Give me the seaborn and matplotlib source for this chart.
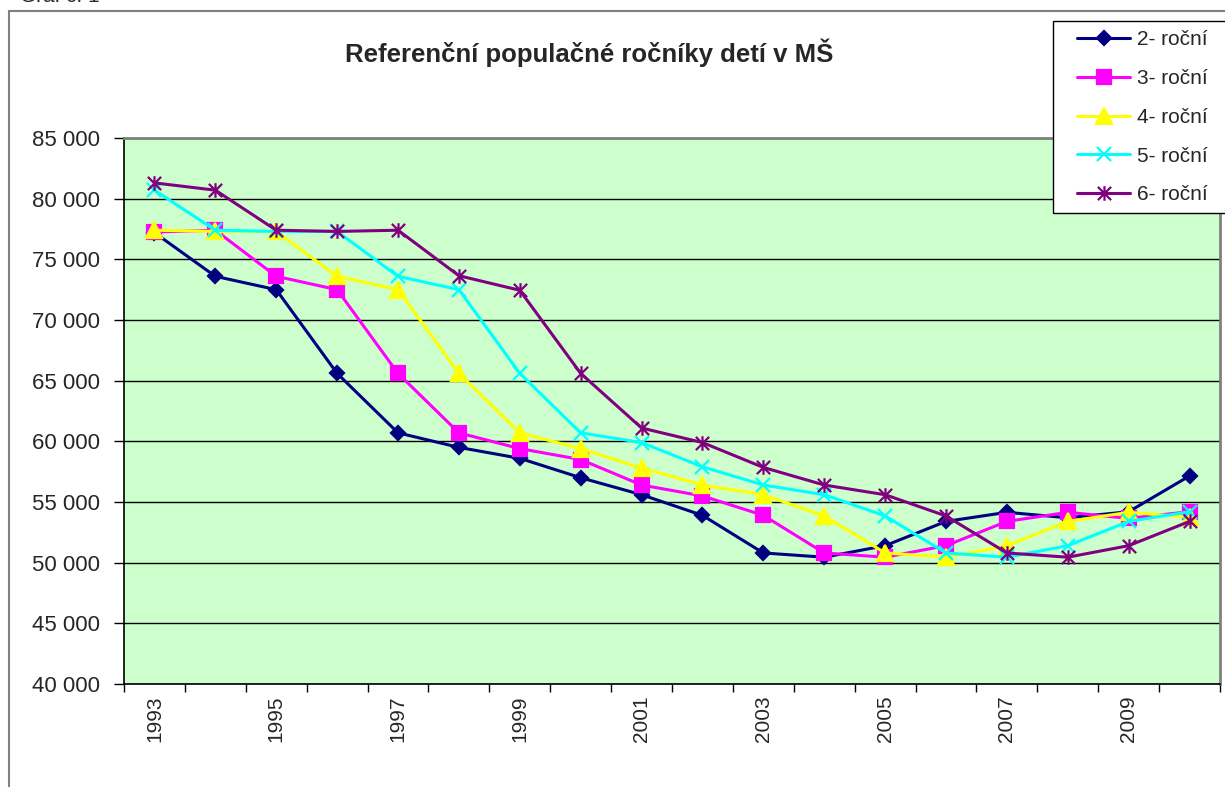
import numpy as np
import pandas as pd
import matplotlib
matplotlib.use('Agg')
import matplotlib.pyplot as plt
import seaborn as sns
from matplotlib.path import Path
from matplotlib.patches import Rectangle
from matplotlib.ticker import FuncFormatter


# Data
years = list(range(1993, 2011))
series_names = ['2- roční', '3- roční', '4- roční', '5- roční', '6- roční']

vals_2 = [77200, 73600, 72500, 65600, 60700, 59500, 58600, 57000, 55600,
	  53900, 50800, 50450, 51400, 53400, 54150, 53700, 54200, 57150]
vals_3 = [77250, 77400, 73600, 72500, 65600, 60700, 59400, 58500, 56400,
	  55500, 53900, 50800, 50450, 51400, 53400, 54150, 53650, 54200]
vals_4 = [77400, 77300, 77300, 73600, 72500, 65600, 60700, 59400, 57800,
	  56400, 55600, 53850, 50800, 50450, 51400, 53400, 54150, 53750]
vals_5 = [80700, 77400, 77300, 77300, 73600, 72500, 65600, 60700, 59900,
	  57900, 56400, 55600, 53850, 50800, 50450, 51400, 53400, 54200]
vals_6 = [81300, 80700, 77400, 77300, 77400, 73650, 72450, 65600, 61100,
	  59900, 57850, 56400, 55600, 53850, 50800, 50450, 51400, 53400]

title = 'Referenční populačné ročníky detí v MŠ'
y_ticks = [40000, 45000, 50000, 55000, 60000, 65000, 70000, 75000, 80000, 85000]
x_label_years = [1993, 1995, 1997, 1999, 2001, 2003, 2005, 2007, 2009]


def build_frame():

	frames = []
	for name, vals in zip(series_names, [vals_2, vals_3, vals_4, vals_5, vals_6]):
		frames.append(pd.DataFrame({'year': years, 'value': vals, 'series': name}))
	return pd.concat(frames, ignore_index=True)


# Excel style asterisk: an X with a vertical bar through it
asterisk = Path([(-1, -1), (1, 1), (-1, 1), (1, -1), (0, -1.1), (0, 1.1)],
		[Path.MOVETO, Path.LINETO] * 3)

styles = {
	'2- roční': dict(color='#000080', marker='D', markersize=7.5, mfc='#000080'),
	'3- roční': dict(color='#FF00FF', marker='s', markersize=10, mfc='#FF00FF'),
	'4- roční': dict(color='#FFFF00', marker='^', markersize=11, mfc='#FFFF00'),
	'5- roční': dict(color='#00FFFF', marker='x', markersize=9.5, mfc='none'),
	'6- roční': dict(color='#800080', marker=asterisk, markersize=10.5, mfc='none'),
}


def main():

	df = build_frame()

	sns.set_theme(style='white')
	plt.rcParams['font.family'] = ['Liberation Sans', 'DejaVu Sans']

	W, H = 1225, 787
	fig = plt.figure(figsize=(W / 100, H / 100), dpi=100)

	# Outer chart frame (gray, runs off the right and bottom edges)
	fig.patches.append(Rectangle((9 / W, -0.05), 1.1, 1 - 11 / H + 0.05,
				     transform=fig.transFigure, fill=False,
				     edgecolor='#808080', lw=1.5, zorder=0))

	ax = fig.add_axes([124 / W, 1 - 684 / H, (1220 - 124) / W, (684 - 138) / H])
	ax.set_facecolor('#CCFFCC')

	for name in series_names:
		st = styles[name]
		sns.lineplot(data=df[df.series == name], x='year', y='value', ax=ax,
			     color=st['color'], marker=st['marker'], markersize=st['markersize'],
			     mfc=st['mfc'], mec=st['color'], mew=1.6, lw=2.2,
			     estimator=None, errorbar=None, label=name, zorder=3)

	ax.set_xlim(1992.5, 2010.5)
	ax.set_ylim(40000, 85000)
	ax.set_yticks(y_ticks)
	ax.yaxis.set_major_formatter(FuncFormatter(lambda v, p: f'{int(v):,}'.replace(',', ' ')))
	ax.set_xticks(x_label_years)
	ax.set_xticklabels([str(y) for y in x_label_years], rotation=90, fontsize=15)
	ax.set_xticks(np.arange(1992.5, 2011, 1.0), minor=True)
	ax.tick_params(axis='x', which='major', length=0, pad=8)
	ax.tick_params(axis='x', which='minor', length=6, width=1, color='black', direction='out', bottom=True)
	ax.tick_params(axis='y', which='major', length=7, width=1, color='black', direction='out',
		       left=True, labelsize=16, pad=10)
	ax.set_xlabel('')
	ax.set_ylabel('')

	ax.yaxis.grid(True, color='black', lw=1)
	ax.xaxis.grid(False)
	ax.set_axisbelow(True)
	for side in ['left', 'bottom']:
		ax.spines[side].set_color('black')
		ax.spines[side].set_linewidth(1.2)
	for side in ['top', 'right']:
		ax.spines[side].set_color('#808080')
		ax.spines[side].set_linewidth(2)

	fig.text(589 / W, 1 - 53 / H, title, ha='center', va='center',
		 fontsize=18.5, fontweight='bold')
	fig.text(20 / W, 1 - 1.5 / H, 'Graf č. 1', va='baseline', fontsize=15)

	# Legend box overlapping the plot area
	handles, labels = ax.get_legend_handles_labels()
	if ax.get_legend() is not None:
		ax.get_legend().remove()
	fig.patches.append(Rectangle((1053 / W, 1 - 213 / H), 0.2, (213 - 21) / H,
				     transform=fig.transFigure, facecolor='white',
				     edgecolor='black', lw=1, zorder=5))
	leg = fig.legend(handles, labels, loc='upper left', bbox_to_anchor=(1071 / W, 1 - 24 / H),
			 frameon=False, fontsize=15, handlelength=2.55, handletextpad=0.3,
			 labelspacing=0.95, borderpad=0.3, borderaxespad=0)
	leg.set_zorder(6)

	fig.savefig('out.png', dpi=100)


if __name__ == "__main__":
	main()
